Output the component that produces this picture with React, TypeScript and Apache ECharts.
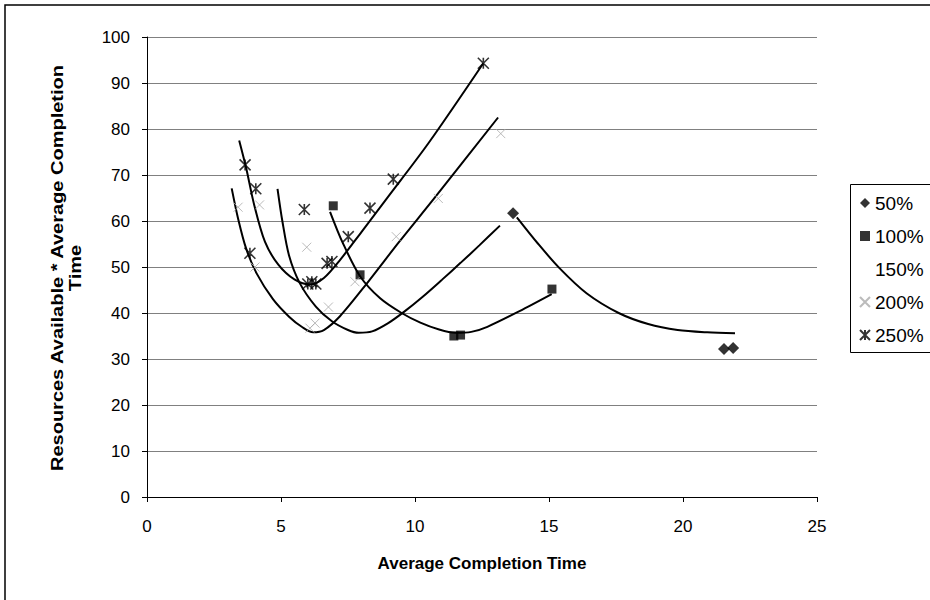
import React, { useEffect, useRef } from 'react';
import * as echarts from 'echarts';

const legendNames = ['50%', '100%', '150%', '200%', '250%'];
const yTitleLines = ['Resources Available * Average Completion', 'Time'];

const points50 = [[13.66, 61.7], [21.53, 32.2], [21.87, 32.4]];
const points100 = [[6.95, 63.3], [7.95, 48.3], [11.45, 35.0], [11.7, 35.2], [15.11, 45.2]];
const points150: number[][] = [];
const points200 = [[3.4, 63.0], [4.2, 63.5], [4.03, 50.0], [5.96, 54.3], [6.08, 36.7], [6.27, 37.8], [6.77, 41.3], [7.76, 46.8], [9.3, 56.6], [10.87, 64.9], [13.2, 79.0]];
const points250 = [[3.66, 72.2], [4.06, 67.0], [3.84, 53.0], [5.87, 62.5], [6.0, 46.3], [6.15, 46.8], [6.3, 46.3], [6.72, 50.8], [6.9, 51.2], [7.51, 56.6], [8.32, 62.8], [9.19, 69.1], [12.55, 94.3]];

const trend50 = [[13.8, 60.8], [14.6, 55.0], [15.4, 49.7], [16.4, 44.3], [17.6, 40.0], [18.7, 37.6], [19.8, 36.3], [20.9, 35.8], [21.94, 35.6]];
const trend100 = [[6.83, 62.0], [7.3, 55.3], [7.95, 48.0], [8.7, 43.2], [9.5, 40.0], [10.2, 37.9], [10.9, 36.4], [11.5, 35.7], [12.1, 35.9], [12.7, 37.0], [13.9, 40.4], [15.1, 44.1]];
const trend150 = [[4.87, 67.0], [5.05, 60.0], [5.3, 52.5], [5.7, 46.5], [6.3, 41.4], [6.9, 38.2], [7.5, 36.3], [7.9, 35.7], [8.4, 36.0], [9.0, 37.8], [9.6, 40.3], [10.3, 43.6], [11.0, 47.2], [11.7, 50.9], [12.4, 54.7], [13.17, 59.0]];
const trend200 = [[3.16, 67.1], [3.4, 60.5], [3.7, 54.0], [4.1, 48.5], [4.7, 43.0], [5.3, 39.2], [5.8, 36.9], [6.2, 35.8], [6.6, 36.3], [7.2, 39.3], [8.2, 46.4], [9.4, 55.4], [10.7, 64.8], [13.1, 82.5]];
const trend250 = [[3.44, 77.5], [3.7, 71.5], [4.0, 63.5], [4.4, 55.5], [4.9, 50.5], [5.5, 47.3], [6.1, 46.2], [6.6, 47.6], [7.2, 51.5], [8.0, 57.6], [9.0, 65.3], [10.5, 76.9], [12.55, 94.3]];

const FONT = "'Liberation Sans', Arial, sans-serif";
const XMARK = 'path://M0,0L10,10M10,0L0,10';
const ASTER = 'path://M0,0L10,10M10,0L0,10M5,0L5,10';

function trend(name: string, data: number[][]) {
  return {
    name,
    type: 'line',
    data,
    smooth: 0.3,
    symbol: 'none',
    lineStyle: { color: '#000', width: 2 },
    silent: true,
    z: 1,
  };
}

export default function App() {
  const ref = useRef<HTMLDivElement>(null);
  useEffect(() => {
    const chart = echarts.init(ref.current!, null, { renderer: 'svg' });
    chart.setOption({
      animation: false,
      backgroundColor: '#fff',
      textStyle: { fontFamily: FONT },
      grid: { left: 147, top: 37, width: 670, height: 460, containLabel: false },
      xAxis: {
        type: 'value', min: 0, max: 25, interval: 5,
        name: 'Average Completion Time', nameLocation: 'middle', nameGap: 58,
        nameTextStyle: { fontFamily: FONT, fontSize: 17, fontWeight: 'bold', color: '#000' },
        axisLine: { show: true, lineStyle: { color: '#000', width: 1 } },
        axisTick: { show: true, length: 5, lineStyle: { color: '#000' } },
        axisLabel: { fontFamily: FONT, fontSize: 17, color: '#000', margin: 21 },
        splitLine: { show: false },
      },
      yAxis: {
        type: 'value', min: 0, max: 100, interval: 10,
        axisLine: { show: true, lineStyle: { color: '#000', width: 1 } },
        axisTick: { show: true, length: 5, lineStyle: { color: '#000' } },
        axisLabel: { fontFamily: FONT, fontSize: 17, color: '#000', margin: 17 },
        splitLine: { show: true, lineStyle: { color: '#808080', width: 1 } },
      },
      legend: {
        orient: 'vertical', left: 851, top: 184,
        data: [
          { name: '50%' }, { name: '100%' }, { name: '150%', icon: 'none' }, { name: '200%' }, { name: '250%' },
        ],
        itemWidth: 10, itemHeight: 10, itemGap: 13,
        padding: [9, 10, 5, 8],
        textStyle: { fontFamily: FONT, fontSize: 19, color: '#000', lineHeight: 20 },
        selectedMode: false,
      },
      graphic: [
        { type: 'rect', shape: { x: 5, y: 5, width: 960, height: 640 }, style: { fill: 'none', stroke: '#000', lineWidth: 1.5 }, silent: true },
        { type: 'rect', shape: { x: 850.5, y: 184.5, width: 120, height: 168 }, style: { fill: 'none', stroke: '#000', lineWidth: 1 }, silent: true },
        {
          type: 'text', x: 58, y: 268, rotation: Math.PI / 2, scaleX: 1.25, silent: true,
          style: { text: yTitleLines[0], font: `bold 16px ${FONT}`, fill: '#000', align: 'center', verticalAlign: 'middle' },
        },
        {
          type: 'text', x: 76, y: 268, rotation: Math.PI / 2, scaleX: 1.25, silent: true,
          style: { text: yTitleLines[1], font: `bold 16px ${FONT}`, fill: '#000', align: 'center', verticalAlign: 'middle' },
        },
      ],
      series: [
        trend('t50', trend50), trend('t100', trend100), trend('t150', trend150), trend('t200', trend200), trend('t250', trend250),
        { name: legendNames[0], type: 'scatter', data: points50, symbol: 'diamond', symbolSize: 12, itemStyle: { color: '#000' }, z: 3 },
        { name: legendNames[1], type: 'scatter', data: points100, symbol: 'rect', symbolSize: 9, itemStyle: { color: '#000' }, z: 3 },
        { name: legendNames[2], type: 'scatter', data: points150, symbol: 'none', itemStyle: { color: '#fff' }, z: 3 },
        { name: legendNames[3], type: 'scatter', data: points200, symbol: XMARK, symbolSize: 9, itemStyle: { color: '#aaa', borderColor: '#aaa', borderWidth: 1 }, z: 3 },
        { name: legendNames[4], type: 'scatter', data: points250, symbol: ASTER, symbolSize: 11, itemStyle: { color: '#000', borderColor: '#000', borderWidth: 1.6 }, z: 3 },
      ],
    });
    return () => chart.dispose();
  }, []);
  return <div ref={ref} style={{ position: 'absolute', left: 0, top: 0, width: 930, height: 600 }} />;
}
